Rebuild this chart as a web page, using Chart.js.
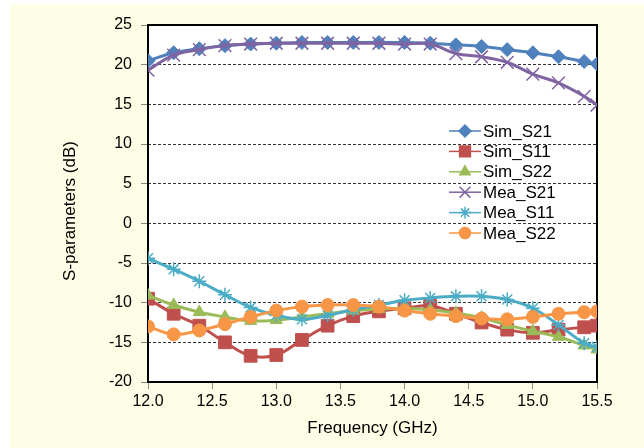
<!DOCTYPE html>
<html>
<head>
<meta charset="utf-8">
<script src="https://cdn.jsdelivr.net/npm/chart.js@4/dist/chart.umd.min.js"></script>
<style>
  html, body { margin: 0; padding: 0; background: #fff; }
  #wrap { position: absolute; left: 10px; top: 4px; width: 634px; height: 444px; background: #fefee6; }
  #c { position: absolute; left: 0; top: 0; }
</style>
</head>
<body>
<div id="wrap"></div>
<canvas id="c" width="644" height="448"></canvas>
<script>
// frequency points (GHz)
const freq = [12.0, 12.2, 12.4, 12.6, 12.8, 13.0, 13.2, 13.4, 13.6, 13.8, 14.0, 14.2, 14.4, 14.6, 14.8, 15.0, 15.2, 15.4, 15.5]

// S-parameters in dB
const simS21 = [20.5, 21.5, 22.0, 22.4, 22.6, 22.7, 22.8, 22.8, 22.8, 22.8, 22.8, 22.7, 22.5, 22.3, 21.9, 21.5, 21.0, 20.4, 20.1]
const simS11 = [-9.5, -11.4, -12.9, -15.0, -16.7, -16.6, -14.7, -12.9, -11.7, -11.1, -10.7, -10.4, -11.4, -12.5, -13.4, -13.8, -13.4, -13.1, -12.9]
const simS22 = [-9.1, -10.3, -11.2, -11.8, -12.3, -12.2, -11.8, -11.4, -11.0, -10.8, -10.7, -10.9, -11.3, -11.9, -12.8, -13.6, -14.3, -15.4, -15.9]
const meaS21 = [19.3, 21.2, 21.9, 22.4, 22.6, 22.7, 22.7, 22.7, 22.7, 22.7, 22.6, 22.6, 21.4, 21.0, 20.3, 18.8, 17.7, 16.0, 14.9]
const meaS11 = [-4.4, -5.8, -7.3, -9.0, -10.6, -11.6, -12.1, -11.6, -10.9, -10.3, -9.7, -9.4, -9.2, -9.2, -9.6, -10.7, -12.8, -15.1, -15.6]
const meaS22 = [-13.0, -14.0, -13.5, -12.7, -11.8, -11.0, -10.5, -10.3, -10.3, -10.5, -11.0, -11.4, -11.7, -12.0, -12.1, -11.8, -11.4, -11.2, -11.1]

const xTicks = [12.0, 12.5, 13.0, 13.5, 14.0, 14.5, 15.0, 15.5]

const names = ['Sim_S21', 'Sim_S11', 'Sim_S22', 'Mea_S21', 'Mea_S11', 'Mea_S22']
const series = [simS21, simS11, simS22, meaS21, meaS11, meaS22]
const colors = ['#4f81bd', '#c0504d', '#9bbb59', '#8064a2', '#4bacc6', '#f79646']
const markers = ['rectRot', 'rect', 'triangle', 'crossRot', 'star', 'circle']
const radii = [7, 9, 7, 9, 7, 6.5]

const FONT = '"Liberation Sans", Arial, sans-serif'

const isStroke = m => m === 'crossRot' || m === 'star'

const datasets = series.map((vals, i) => ({
  label: names[i],
  data: vals.map((v, k) => ({ x: freq[k], y: v })),
  showLine: true,
  borderColor: colors[i],
  backgroundColor: colors[i],
  borderWidth: 3,
  tension: 0.4,
  pointStyle: markers[i],
  pointRadius: radii[i],
  pointBorderWidth: isStroke(markers[i]) ? 1.5 : 1,
  pointBackgroundColor: colors[i],
  pointBorderColor: colors[i],
  order: 6 - i
}))

// white plot area, black frame, y title and legend inside the plot
const framePlugin = {
  id: 'framePlugin',
  beforeDraw(chart) {
    const a = chart.chartArea
    const ctx = chart.ctx
    ctx.save()
    ctx.fillStyle = '#fff'
    ctx.fillRect(a.left, a.top, a.right - a.left, a.bottom - a.top)
    ctx.restore()
  },
  beforeDatasetsDraw(chart) {
    const a = chart.chartArea
    const ctx = chart.ctx
    ctx.save()
    ctx.strokeStyle = '#000'
    ctx.lineWidth = 2
    ctx.strokeRect(a.left, a.top, a.right - a.left, a.bottom - a.top)

    // y axis title
    ctx.translate(70, 211)
    ctx.rotate(-Math.PI / 2)
    ctx.font = '17px ' + FONT
    ctx.fillStyle = '#000'
    ctx.textAlign = 'center'
    ctx.textBaseline = 'middle'
    ctx.fillText('S-parameters (dB)', 0, 0)
    ctx.restore()
  },
  afterDatasetsDraw(chart) {
    const ctx = chart.ctx
    ctx.save()
    ctx.font = '17px ' + FONT
    ctx.textBaseline = 'middle'
    names.forEach((n, i) => {
      const y = 131 + i * 20.4
      ctx.strokeStyle = colors[i]
      ctx.fillStyle = colors[i]
      ctx.lineWidth = 1.5
      ctx.beginPath()
      ctx.moveTo(449, y)
      ctx.lineTo(481, y)
      ctx.stroke()
      Chart.helpers.drawPoint(ctx, {
        pointStyle: markers[i],
        radius: radii[i] * 0.85,
        rotation: 0,
        borderWidth: isStroke(markers[i]) ? 2 : 1
      }, 465, y)
      ctx.fillStyle = '#000'
      ctx.fillText(n, 483, y + 1)
    })
    ctx.restore()
  }
}

new Chart(document.getElementById('c'), {
  type: 'scatter',
  data: { datasets: datasets },
  options: {
    responsive: false,
    animation: false,
    layout: { padding: { left: 0, top: 25, right: 47, bottom: 0 } },
    plugins: { legend: { display: false }, tooltip: { enabled: false } },
    scales: {
      x: {
        type: 'linear',
        min: 12,
        max: 15.5,
        afterFit: s => { s.height = 66 },
        afterBuildTicks: s => {
          s.ticks = xTicks.map(v => ({ value: v }))
        },
        ticks: {
          color: '#000',
          font: { family: FONT, size: 16 },
          padding: 3,
          maxRotation: 0,
          callback: v => Number(v).toFixed(1)
        },
        grid: { drawOnChartArea: false, tickLength: 7, tickColor: '#888', color: '#888' },
        border: { display: false },
        title: {
          display: true,
          text: 'Frequency (GHz)',
          color: '#000',
          font: { family: FONT, size: 17 },
          padding: { top: 0, bottom: 9 }
        }
      },
      y: {
        min: -20,
        max: 25,
        afterFit: s => { s.width = 148 },
        ticks: {
          stepSize: 5,
          color: '#000',
          font: { family: FONT, size: 16 },
          padding: 9
        },
        grid: { color: '#333', tickLength: 7, tickColor: '#888', lineWidth: 1 },
        border: { display: false, dash: [3, 2] },
        title: { display: false }
      }
    }
  },
  plugins: [framePlugin]
})
</script>
</body>
</html>
